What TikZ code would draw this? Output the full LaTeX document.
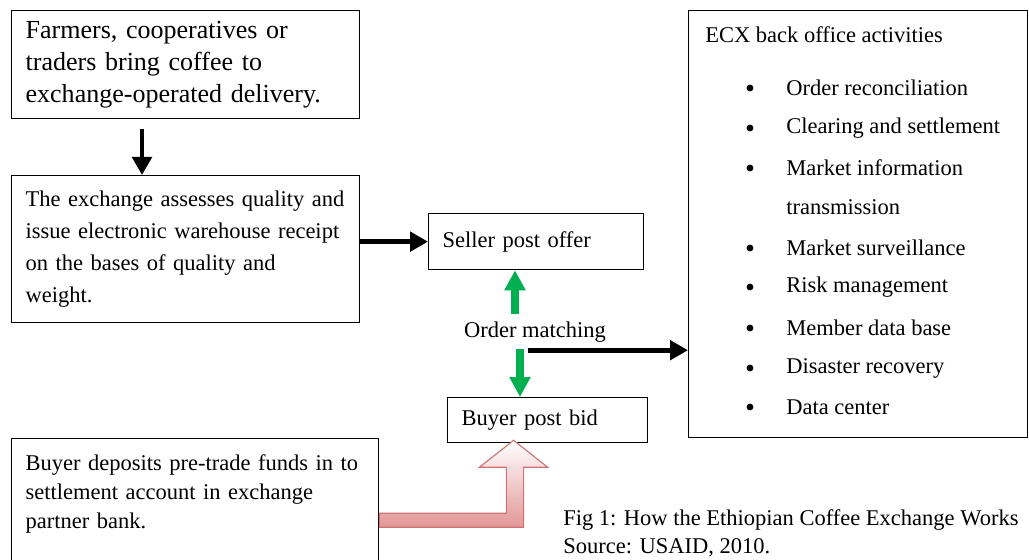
\documentclass[tikz,border=0pt]{standalone}
\usepackage{fontspec}
\setmainfont{Liberation Serif}
\usetikzlibrary{arrows.meta,calc,positioning}

\definecolor{matchgreen}{RGB}{0,176,80}
\definecolor{fundpink}{RGB}{226,150,150}
\definecolor{fundedge}{RGB}{205,115,115}

\begin{document}
\begin{tikzpicture}[
	x=0.025cm, y=-0.025cm,
	stage/.style = {draw, line width=0.9pt, anchor=north west, align=left, inner xsep=0.35cm, inner ysep=0pt},
	big text/.style = {font=\fontsize{18.5}{22.8}\selectfont},
	body text/.style = {font=\fontsize{16}{22.8}\selectfont},
	entry/.style = {body text, inner sep=0pt, anchor=west},
	bullet/.style = {circle, fill, inner sep=0pt, minimum size=0.17cm},
	flow/.style = {line width=3.5pt, -{Triangle[length=0.45cm, width=0.48cm]}},
	match flow/.style = {matchgreen, line width=5pt, -{Triangle[length=0.5cm, width=0.5cm]}},
	fund arrow/.style = {draw=fundedge, line width=0.8pt, top color=white, bottom color=fundpink},
]

	%% Page size of the reference
	\useasboundingbox (0,0) rectangle (1029,559);

	%% The left column of stages
	\node [stage, big text, text width=8cm, minimum height=2.7cm] (farmers) at (11,10)
		{Farmers, cooperatives or\\traders bring coffee to\\exchange-operated delivery.};
	\node [stage, body text, text width=8cm, minimum height=3.675cm] (assess) at (11,175)
		{The exchange assesses quality and\\issue electronic warehouse receipt\\on the bases of quality and\\weight.};
	%% runs past the bottom of the page
	\node [stage, font=\fontsize{16}{20.6}\selectfont, text width=8.475cm, inner ysep=0.4cm] (deposit) at (11,438)
		{Buyer deposits pre-trade funds in to\\settlement account in exchange\\partner bank.\\[1.2cm]\mbox{}};

	%% The trading floor
	\node [stage, body text, text width=4.675cm, minimum height=1.4cm] (seller) at (428,213) {Seller post offer};
	\node [stage, body text, text width=4.3cm, minimum height=1.125cm] (buyer) at (447,397) {Buyer post bid};
	\node [body text] (match) at (535,332) {Order matching};

	%% Back office box and its list
	\node [stage, minimum width=8.475cm, minimum height=10.675cm] (ecx) at (688,10) {};
	\node [entry] (ecx-title) at (705,35) {ECX back office activities};
	\foreach [count=\i] \t/\y in {Order reconciliation/88, Clearing and settlement/128,
		Market information/168, Market surveillance/248, Risk management/287,
		Member data base/328, Disaster recovery/368, Data center/407}{%
		\node [bullet] (dot-\i) at (750,\y) {};
		\node [entry] (item-\i) at (786,\y) {\t};
	}
	\node [entry] (item-3b) at (786,207) {transmission};

	%% Caption
	\node [entry] (fig) at (563,520) {Fig 1: How the Ethiopian Coffee Exchange Works};
	\node [entry] (source) at (563,548) {Source: USAID, 2010.};

	%% Black arrows
	\coordinate (drop) at ($(farmers.south west)+(131,10)$);
	\draw [flow] (drop) -- (drop |- assess.north);
	\draw [flow] (assess.east |- seller.west) -- (seller.west);
	\coordinate (feed) at ($(match.south)+(-7,3)$);
	\draw [flow] (feed) -- (feed -| ecx.west);

	%% Green arrows out of the matching
	\coordinate (rise) at ($(match.north)+(-20,-3)$);
	\draw [match flow] (rise) -- (rise |- seller.south);
	\coordinate (sink) at ($(match.south)+(-15,2)$);
	\draw [match flow] (sink) -- (sink |- buyer.north);

	%% Funds go up to the bid
	\coordinate (fund tip) at ($(buyer.south)+(-34,-3)$);
	\coordinate (fund low) at ($(fund tip)+(0,87)$);
	\path [fund arrow] (fund tip) -- ++(34,27) -- ++(-24,0) -- ++(0,60)
		-- (deposit.east |- fund low) -- ++(0,-14) -- ++(127,0) -- ++(0,-46) -- ++(-27,0) -- cycle;

\end{tikzpicture}
\end{document}
